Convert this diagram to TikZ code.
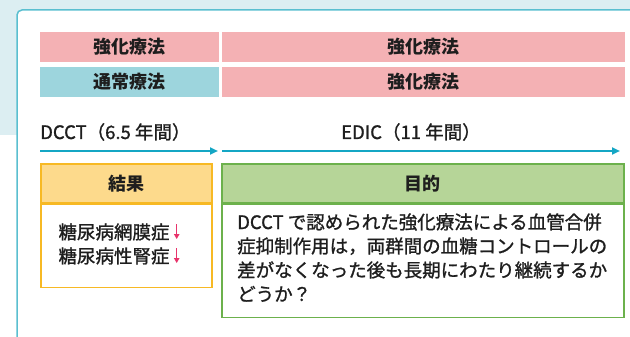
\documentclass[tikz,border=0pt]{standalone}
\usepackage{fontspec}
\setmainfont{Noto Sans CJK JP}
\newfontfamily\medfont[FakeBold=1.2]{Noto Sans CJK JP}
\usetikzlibrary{arrows.meta}
\definecolor{bgblue}{HTML}{DCEEF2}
\definecolor{framecol}{HTML}{5ABFD0}
\definecolor{pinkcell}{HTML}{F4B1B4}
\definecolor{cyancell}{HTML}{9DD5DD}
\definecolor{arrowblue}{HTML}{14A6C4}
\definecolor{ohead}{HTML}{FDDA8C}
\definecolor{oborder}{HTML}{F7B924}
\definecolor{ghead}{HTML}{B6D598}
\definecolor{gborder}{HTML}{6CB14C}
\definecolor{arrowred}{HTML}{E8336B}
\definecolor{txt}{HTML}{1E1E1E}
\begin{document}
\begin{tikzpicture}[x=1pt,y=-1pt,
  every node/.style={text=txt, font=\fontsize{18.5pt}{24pt}\selectfont\medfont},
  cell/.style={inner sep=0pt, minimum height=30pt, font=\fontsize{18pt}{24pt}\selectfont\bfseries},
  hdr/.style={anchor=north west, inner sep=0pt, line width=1.5pt, minimum height=39pt, font=\fontsize{18pt}{24pt}\selectfont\bfseries},
  bodybox/.style={anchor=north west, inner sep=0pt, line width=1.5pt, fill=white},
  timeline/.style={draw=arrowblue, line width=2pt, -{Triangle[length=8pt,width=7pt]}},
  dnarrow/.style={draw=arrowred, line width=1.2pt, -{Triangle[length=5pt,width=5.5pt]}},
  line/.style={anchor=base west, inner sep=0pt}
]
\useasboundingbox (0,0) rectangle (630,337);
\clip (0,0) rectangle (630,337);
\fill[bgblue] (0,0) rectangle (630,135);
\draw[framecol, line width=1.5pt, fill=white, rounded corners=5pt] (17,10) rectangle (680,380);

% table rows
\node[cell, fill=pinkcell, minimum width=179pt] (r1l) at (129.5,47) {強化療法};
\node[cell, fill=pinkcell, minimum width=403pt] (r1r) at (423.5,47) {強化療法};
\node[cell, fill=cyancell, minimum width=179pt] (r2l) at (129.5,82) {通常療法};
\node[cell, fill=pinkcell, minimum width=403pt] (r2r) at (423.5,82) {強化療法};

% period labels
\node[line] (dcct) at (40,139) {DCCT（6.5 年間）};
\node[line] (edic) at (341,139) {EDIC（11 年間）};

\coordinate (a1s) at (40,151);
\coordinate (a1e) at (218,151);
\coordinate (a2s) at (222,151);
\coordinate (a2e) at (620,151);
\draw[timeline] (a1s) -- (a1e);
\draw[timeline] (a2s) -- (a2e);

% result box
\node[hdr, draw=oborder, fill=ohead, minimum width=171pt] (rh) at (40,163) {結果};
\node[bodybox, draw=oborder, minimum width=171pt, minimum height=83pt] (rb) at (rh.south west) {};
\node[inner sep=0pt] (o1) at (114,232) {糖尿病網膜症};
\node[inner sep=0pt] (o2) at (114,256) {糖尿病性腎症};
\draw[dnarrow] ([xshift=7pt,yshift=8pt]o1.east) -- ([xshift=7pt,yshift=-7pt]o1.east);
\draw[dnarrow] ([xshift=7pt,yshift=8pt]o2.east) -- ([xshift=7pt,yshift=-7pt]o2.east);

% purpose box
\node[hdr, draw=gborder, fill=ghead, minimum width=402pt] (gh) at (221,163) {目的};
\node[bodybox, draw=gborder, minimum width=402pt, minimum height=113pt] (gb) at (gh.south west) {};
\node[line] (g1) at (237,229) {DCCT で認められた強化療法による血管合併};
\node[line] (g2) at (237,253) {症抑制作用は，両群間の血糖コントロールの};
\node[line] (g3) at (237,277) {差がなくなった後も長期にわたり継続するか};
\node[line] (g4) at (237,301) {どうか？};
\end{tikzpicture}
\end{document}
